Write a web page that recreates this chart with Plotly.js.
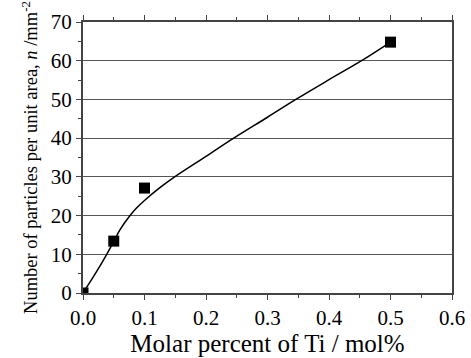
<!DOCTYPE html>
<html>
<head>
<meta charset="utf-8">
<script src="https://cdn.plot.ly/plotly-3.0.1.min.js"></script>
<style>
html,body{margin:0;padding:0;background:#fff;}
#chart{width:471px;height:358px;}
#chart svg text{font-family:'Liberation Serif','Times New Roman',serif !important;}
</style>
</head>
<body>
<div id="chart"></div>
<script>
// Measured data points
const tiPercent = [0, 0.05, 0.1, 0.5];
const particleCount = [0, 13.4, 27.1, 64.8];

// Fitted curve
const curveX = [0, 0.02, 0.0386, 0.05, 0.06, 0.0765, 0.0874, 0.1, 0.125, 0.149, 0.2, 0.245, 0.3, 0.346, 0.4, 0.453, 0.5];
const curveY = [0, 5, 10, 13.3, 16.3, 20, 22, 23.9, 27.2, 30, 35.3, 40, 45.4, 50, 55.1, 60, 64.8];

const xTickVals = [0, 0.1, 0.2, 0.3, 0.4, 0.5, 0.6];
const xTickText = ['0.0', '0.1', '0.2', '0.3', '0.4', '0.5', '0.6'];
const yTickVals = [0, 10, 20, 30, 40, 50, 60, 70];

const serifFamily = 'Liberation Serif';

const traces = [
  {
    x: curveX, y: curveY, type: 'scatter', mode: 'lines',
    line: {color: '#000', width: 1.5, shape: 'spline', smoothing: 1},
    hoverinfo: 'skip', showlegend: false
  },
  {
    x: tiPercent, y: particleCount, type: 'scatter', mode: 'markers',
    marker: {symbol: 'square', size: 11, color: '#000'},
    cliponaxis: true, showlegend: false
  }
];

const layout = {
  width: 471, height: 358,
  margin: {l: 83, r: 19, t: 22, b: 65},
  paper_bgcolor: '#fff', plot_bgcolor: '#fff',
  font: {family: serifFamily, size: 18, color: '#000'},
  showlegend: false,
  xaxis: {
    range: [0, 0.6], tickvals: xTickVals, ticktext: xTickText,
    ticks: 'outside', ticklen: 5, tickwidth: 1, tickcolor: '#444',
    minor: {dtick: 0.05, ticks: 'outside', ticklen: 3, tickcolor: '#444', showgrid: false},
    showline: true, linecolor: '#444', linewidth: 2, mirror: 'ticks',
    showgrid: false, zeroline: false,
    tickfont: {family: serifFamily, size: 21, color: '#000'},
    title: {text: 'Molar percent of Ti / mol%', font: {family: serifFamily, size: 25, color: '#000'}, standoff: 3}
  },
  yaxis: {
    range: [0, 70], tickvals: yTickVals,
    ticks: 'outside', ticklen: 5, tickwidth: 1, tickcolor: '#444',
    minor: {dtick: 5, ticks: 'outside', ticklen: 3, tickcolor: '#444', showgrid: false},
    showline: true, linecolor: '#444', linewidth: 2, mirror: true,
    showgrid: true, gridcolor: '#555', gridwidth: 1, zeroline: false,
    tickfont: {family: serifFamily, size: 21, color: '#000'},
    title: {text: 'Number of particles per unit area, <i>n</i> /mm<sup>-2</sup>', font: {family: serifFamily, size: 18.5, color: '#000'}, standoff: 8}
  }
};

Plotly.newPlot('chart', traces, layout, {displayModeBar: false});
</script>
</body>
</html>
